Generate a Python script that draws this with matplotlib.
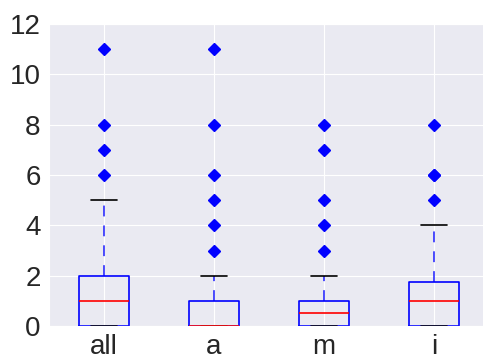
import matplotlib
matplotlib.use('Agg')
import matplotlib.pyplot as plt
import seaborn as sns

sns.set_style('darkgrid')
plt.rcParams['font.family'] = ['Liberation Sans', 'DejaVu Sans']

labels = ['all', 'a', 'm', 'i']
q1 = [0, 0, 0, 0]
med = [1, 0, 0.5, 1]
q3 = [2, 1, 1, 1.75]
whislo = [0, 0, 0, 0]
whishi = [5, 2, 2, 4]
fliers = [[6, 7, 8, 11],
          [3, 4, 5, 6, 8, 11],
          [3, 4, 5, 7, 8],
          [5, 6, 6, 8]]

stats = []
for i in range(len(labels)):
    stats.append({'label': labels[i], 'q1': q1[i], 'med': med[i], 'q3': q3[i],
                  'whislo': whislo[i], 'whishi': whishi[i], 'fliers': fliers[i]})

fig = plt.figure(figsize=(4.83, 3.56), dpi=100)
ax = fig.add_axes([49 / 483, 30 / 356, 440 / 483, 302 / 356])

bp = ax.bxp(stats, widths=0.46,
            boxprops=dict(color='blue', linewidth=1.2),
            medianprops=dict(color='red', linewidth=1.2),
            whiskerprops=dict(color='blue', linestyle=(0, (6, 5)), linewidth=1.3, alpha=0.75),
            capprops=dict(color='black', linewidth=1.2),
            flierprops=dict(marker='D', markerfacecolor='blue', markeredgecolor='blue',
                            markersize=6.5, linestyle='none'))
for key in bp:
    for art in bp[key]:
        art.set_clip_on(False)

ax.set_ylim(0, 12)
ax.set_xlim(0.5, 4.5)
ax.set_yticks([0, 2, 4, 6, 8, 10, 12])
ax.tick_params(labelsize=20, colors='#262626', length=0, pad=6)

fig.savefig('out.png', dpi=100)
